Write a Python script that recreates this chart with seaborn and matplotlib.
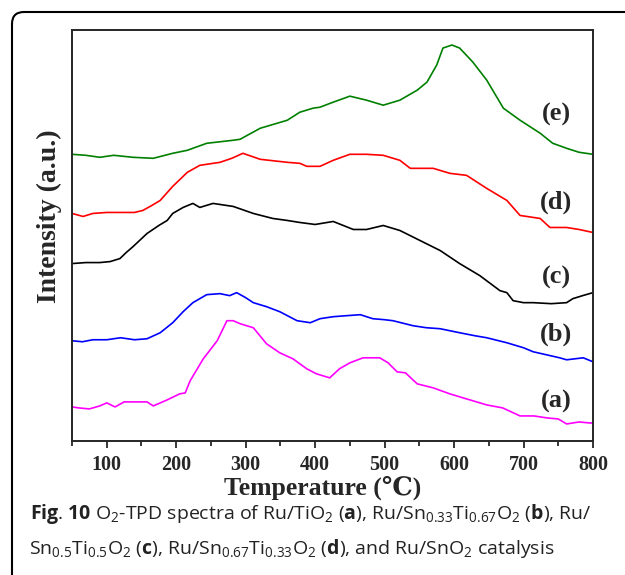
import matplotlib
matplotlib.use("Agg")
import matplotlib.pyplot as plt
import seaborn as sns
import pandas as pd
from matplotlib.patches import FancyBboxPatch
from matplotlib.transforms import IdentityTransform

# O2-TPD curves, temperature (deg C) vs intensity (a.u.)
t_a = [50, 60, 75, 90, 100, 112, 125, 140, 158, 167, 187, 205, 213, 220, 239, 259, 273, 282, 292, 311,
       330, 349, 368, 388, 402, 421, 435, 450, 469, 493, 505, 518, 530, 547, 570, 594, 618, 647, 670,
       695, 715, 734, 750, 762, 780, 795, 800]
i_a = [34, 33, 32, 35, 38, 34, 39, 39, 39, 35, 41, 47, 48, 60, 82, 100, 120, 120, 117, 113,
       97, 88, 82, 72, 67, 63, 72, 78, 83, 83, 78, 69, 68, 57, 53, 47, 42, 36, 33,
       25, 25, 23, 22, 17, 19, 18, 18]

t_b = [50, 65, 80, 100, 120, 140, 158, 177, 195, 210, 224, 244, 263, 277, 287, 300, 311, 330, 349, 374,
       393, 407, 426, 445, 465, 483, 500, 512, 541, 560, 580, 608, 630, 647, 676, 700, 714, 752, 762,
       786, 800]
i_b = [100, 99, 101, 101, 103, 101, 102, 108, 118, 129, 138, 146, 147, 145, 148, 143, 138, 134, 129, 120,
       118, 122, 124, 125, 126, 122, 121, 120, 115, 113, 112, 108, 105, 103, 98, 93, 89, 83, 81,
       83, 79]

t_c = [50, 70, 90, 105, 119, 128, 138, 158, 175, 187, 195, 210, 224, 234, 253, 282, 311, 339, 360, 378,
       400, 426, 455, 474, 498, 522, 551, 580, 608, 637, 666, 676, 685, 700, 714, 740, 762, 771, 785, 800]
i_c = [177, 178, 178, 179, 182, 188, 194, 207, 215, 220, 227, 233, 237, 233, 237, 234, 227, 222, 220, 218,
       216, 219, 211, 211, 215, 210, 200, 190, 177, 165, 150, 148, 140, 138, 138, 137, 138, 142, 145, 148]

t_d = [50, 66, 80, 100, 120, 140, 152, 165, 177, 195, 216, 234, 263, 280, 296, 321, 360, 378, 388, 407,
       426, 450, 474, 498, 522, 537, 570, 594, 618, 647, 676, 695, 724, 738, 762, 780, 800]
i_d = [227, 224, 227, 228, 228, 228, 230, 235, 240, 254, 268, 275, 278, 282, 287, 281, 278, 277, 274, 274,
       280, 286, 286, 285, 280, 272, 272, 267, 265, 252, 240, 225, 222, 213, 213, 211, 208]

t_e = [50, 70, 90, 110, 138, 167, 195, 216, 244, 282, 292, 321, 360, 378, 397, 407, 426, 450, 474, 498,
       522, 547, 561, 575, 584, 597, 608, 627, 647, 671, 695, 724, 742, 762, 780, 800]
i_e = [286, 285, 283, 285, 283, 282, 287, 290, 297, 300, 301, 312, 320, 328, 332, 333, 338, 344, 340, 335,
       340, 350, 358, 375, 392, 395, 392, 378, 360, 332, 320, 307, 297, 292, 288, 286]

curve_names = ["(a)", "(b)", "(c)", "(d)", "(e)"]
curve_colors = ["#ff00ff", "#0000ff", "#000000", "#ff0000", "#008000"]
label_y = [39, 106, 163, 238, 326]

frames = []
for name, t, i in zip(curve_names, [t_a, t_b, t_c, t_d, t_e], [i_a, i_b, i_c, i_d, i_e]):
    frames.append(pd.DataFrame({"Temperature": t, "Intensity": i, "sample": name}))
df = pd.concat(frames, ignore_index=True)

sns.set_style("ticks")
plt.rcParams["font.family"] = ["Liberation Serif", "DejaVu Serif"]
plt.rcParams["mathtext.fontset"] = "custom"
plt.rcParams["mathtext.rm"] = "Open Sans"
plt.rcParams["mathtext.bf"] = "Open Sans:bold"
plt.rcParams["mathtext.default"] = "rm"

fig = plt.figure(figsize=(6.25, 5.75), dpi=100)
ax = fig.add_axes([72 / 625, 1 - 441 / 575, 521 / 625, 411 / 575])

sns.lineplot(data=df, x="Temperature", y="Intensity", hue="sample",
             palette=dict(zip(curve_names, curve_colors)), linewidth=1.2,
             legend=False, ax=ax)

for name, y in zip(curve_names, label_y):
    ax.text(747, y, name, ha="center", va="center", fontsize=19, fontweight="bold")

ax.set_xlim(50, 800)
ax.set_ylim(0, 410)
ax.set_xticks([100, 200, 300, 400, 500, 600, 700, 800])
ax.set_xticks(range(50, 801, 50), minor=True)
ax.set_yticks([])
ax.tick_params(axis="x", which="major", length=5, width=1.3, pad=5, labelsize=14.5)
ax.tick_params(axis="x", which="minor", length=3.5, width=1.3)
for lab in ax.get_xticklabels():
    lab.set_fontweight("bold")
for sp in ax.spines.values():
    sp.set_visible(True)
    sp.set_linewidth(1.4)

ax.set_xlabel("Temperature (\u2103)", fontsize=18.5, fontweight="bold")
ax.set_ylabel("Intensity (a.u.)", fontsize=20, fontweight="bold")
ax.xaxis.set_label_coords(0.482, -0.083)
ax.yaxis.set_label_coords(-0.019, 0.546)

# frame around figure + caption
box = FancyBboxPatch((12, -60), 720, 623, boxstyle="round,pad=0,rounding_size=12",
                     transform=IdentityTransform(), fill=False, lw=1.5, ec="black")
fig.add_artist(box)

cap1 = (r"$\mathbf{Fig}$. $\mathbf{10}$ O$_2$-TPD spectra of Ru/TiO$_2$ ($\mathbf{a}$), "
        r"Ru/Sn$_{0.33}$Ti$_{0.67}$O$_2$ ($\mathbf{b}$), Ru/")
cap2 = (r"Sn$_{0.5}$Ti$_{0.5}$O$_2$ ($\mathbf{c}$), Ru/Sn$_{0.67}$Ti$_{0.33}$O$_2$ "
        r"($\mathbf{d}$), and Ru/SnO$_2$ catalysis")
fig.text(30 / 625, 1 - 514 / 575, cap1, fontsize=14, family="Open Sans", color="#222222", va="center")
fig.text(29 / 625, 1 - 548 / 575, cap2, fontsize=14, family="Open Sans", color="#222222", va="center")

fig.savefig("out.png", dpi=100)
